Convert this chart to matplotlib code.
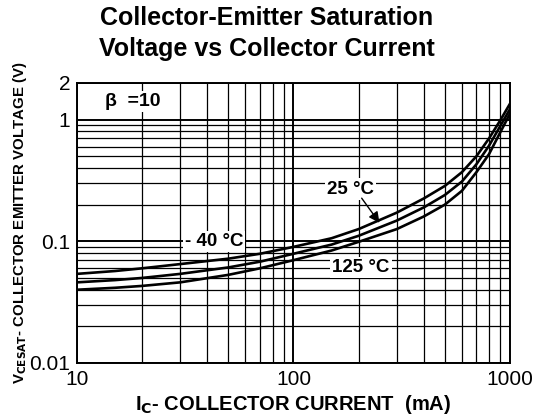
import matplotlib
matplotlib.use('Agg')
import matplotlib.pyplot as plt
from matplotlib.ticker import FixedLocator, LogLocator, NullFormatter, FixedFormatter

plt.rcParams['font.family'] = ['Liberation Sans', 'DejaVu Sans']

# collector current (mA)
ic = [10, 15, 20, 30, 50, 70, 100, 150, 200, 300, 400, 500, 600, 700, 800, 900, 1000]
# VCE(sat) (V) per temperature
vce_m40 = [0.054, 0.057, 0.060, 0.065, 0.072, 0.079, 0.090, 0.106, 0.126, 0.172, 0.225, 0.285, 0.37, 0.50, 0.70, 0.98, 1.35]
vce_25 = [0.046, 0.048, 0.050, 0.054, 0.061, 0.068, 0.079, 0.094, 0.111, 0.148, 0.190, 0.240, 0.31, 0.43, 0.61, 0.88, 1.22]
vce_125 = [0.040, 0.0415, 0.043, 0.046, 0.053, 0.060, 0.070, 0.084, 0.099, 0.126, 0.160, 0.200, 0.26, 0.37, 0.52, 0.78, 1.12]

y_ticks = [0.01, 0.1, 1, 2]
y_tick_labels = ['0.01', '0.1', '1', '2']
x_ticks = [10, 100, 1000]
x_tick_labels = ['10', '100', '1000']

fig = plt.figure(figsize=(5.34, 4.17), dpi=100)
ax = fig.add_axes([0.1442, 0.1295, 0.955 - 0.1442, 0.801 - 0.1295])

ax.set_xscale('log')
ax.set_yscale('log')
ax.set_xlim(10, 1000)
ax.set_ylim(0.01, 2)

# grid
ax.xaxis.set_major_locator(FixedLocator(x_ticks))
ax.xaxis.set_major_formatter(FixedFormatter(x_tick_labels))
ax.xaxis.set_minor_locator(LogLocator(base=10, subs=range(2, 10)))
ax.xaxis.set_minor_formatter(NullFormatter())
ax.yaxis.set_major_locator(FixedLocator(y_ticks))
ax.yaxis.set_major_formatter(FixedFormatter(y_tick_labels))
ax.yaxis.set_minor_locator(LogLocator(base=10, subs=range(2, 10)))
ax.yaxis.set_minor_formatter(NullFormatter())

ax.grid(which='minor', color='black', linewidth=0.9)
ax.grid(which='major', color='black', linewidth=1.4)
ax.tick_params(which='both', length=0, labelsize=15, pad=5)
for s in ax.spines.values():
    s.set_linewidth(1.4)

for v in (vce_m40, vce_25, vce_125):
    ax.plot(ic, v, color='black', linewidth=1.9, zorder=3)

box = dict(facecolor='white', edgecolor='none', pad=1.5)
ax.text(18, 1.41, '\u03b2  =10', fontsize=14, fontweight='bold', ha='center', va='center', bbox=box, zorder=4)
ax.text(43, 0.1, '- 40 \u00b0C', fontsize=13.5, fontweight='bold', ha='center', va='center', bbox=box, zorder=4)
ax.text(184, 0.269, '25 \u00b0C', fontsize=13.5, fontweight='bold', ha='center', va='center', bbox=box, zorder=4)
ax.text(205, 0.061, '125 \u00b0C', fontsize=13.5, fontweight='bold', ha='center', va='center', bbox=box, zorder=4)
ax.annotate('', xy=(254, 0.136), xytext=(203, 0.236),
            arrowprops=dict(arrowstyle='-|>', color='black', lw=1.0, mutation_scale=16), zorder=5)

fig.text(0.5, 0.985, 'Collector-Emitter Saturation\nVoltage vs Collector Current',
         ha='center', va='top', fontsize=18, fontweight='bold', linespacing=1.35)
ax.set_xlabel(r'I$_{\mathbf{C}}$- COLLECTOR CURRENT  (mA)', fontsize=14.5, fontweight='bold', labelpad=3)
ax.set_ylabel(r'V$_{\mathbf{CESAT}}$- COLLECTOR EMITTER VOLTAGE (V)', fontsize=10.8, fontweight='bold', labelpad=0)

fig.savefig('out.png', dpi=100)
